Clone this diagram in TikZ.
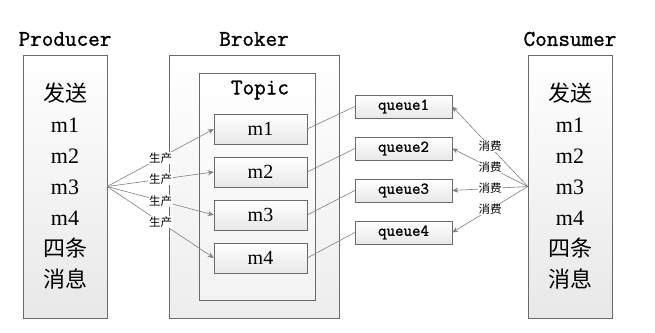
\documentclass[tikz,border=0pt]{standalone}
\usepackage{fontspec}
\setmainfont{Liberation Serif}
\setmonofont{Latin Modern Mono}[FakeBold=1.2]
\newfontfamily\cjk{Noto Sans CJK SC}
\usetikzlibrary{positioning,arrows.meta}
\definecolor{contur}{HTML}{6A6A6A}
\definecolor{linie}{HTML}{808080}
\tikzset{
  cutie/.style    = {draw=contur, top color=white, bottom color=gray!18, inner sep=0pt},
  mare/.style     = {cutie, minimum width=84pt, minimum height=263pt, align=center,
                     font=\fontsize{22}{31}\selectfont},
  mesaj/.style    = {cutie, minimum width=93pt, minimum height=30pt, font=\fontsize{20}{22}\selectfont},
  coada/.style    = {cutie, minimum width=97pt, minimum height=23pt,
                     font=\ttfamily\bfseries\fontsize{16.5}{18}\selectfont},
  titlu/.style    = {font=\ttfamily\bfseries\fontsize{22.5}{24}\selectfont},
  eticheta/.style = {fill=white, inner sep=0.5pt, font=\cjk\fontsize{11.5}{12}\selectfont},
  sageata/.style  = {draw=linie, -{Stealth[length=6pt,width=5pt]}, line width=0.6pt},
  legatura/.style = {draw=linie, line width=0.6pt}
}
\begin{document}
\begin{tikzpicture}[x=1pt, y=-1pt]
    \useasboundingbox (0,0) rectangle (655,332);
    \node[mare] (prod) at (65,186.5) {{\cjk 发送}\\ m1\\ m2\\ m3\\ m4\\ {\cjk 四条}\\ {\cjk 消息}};
    \node[cutie, minimum width=170pt, minimum height=263pt, bottom color=gray!14] (broker) at (254,186.5) {};
    \node[cutie, minimum width=116pt, minimum height=227pt, bottom color=gray!10] (topic) at (257,186.5) {};
    \node[mare] (cons) at (570,186.5) {{\cjk 发送}\\ m1\\ m2\\ m3\\ m4\\ {\cjk 四条}\\ {\cjk 消息}};

    \node[titlu] (tprod) at (65,39) {Producer};
    \node[titlu] (tbroker) at (254,39) {Broker};
    \node[titlu] (tcons) at (570,39) {Consumer};
    \node[titlu] (ttopic) at (260,90) {Topic};

    \foreach \i in {1,...,4} {
        \node[mesaj] (m\i) at (260.5,86+43*\i) {m\i};
        \node[coada] (q\i) at (403.5,64.5+42*\i) {queue\i};
    }

    \foreach \i in {1,...,4} {
        \draw[sageata] (prod.east) -- node[eticheta] {生产} (m\i.west);
        \draw[legatura] (m\i.east) -- (q\i.west);
        \draw[sageata] (cons.west) -- node[eticheta] {消费} (q\i.east);
    }
\end{tikzpicture}
\end{document}
